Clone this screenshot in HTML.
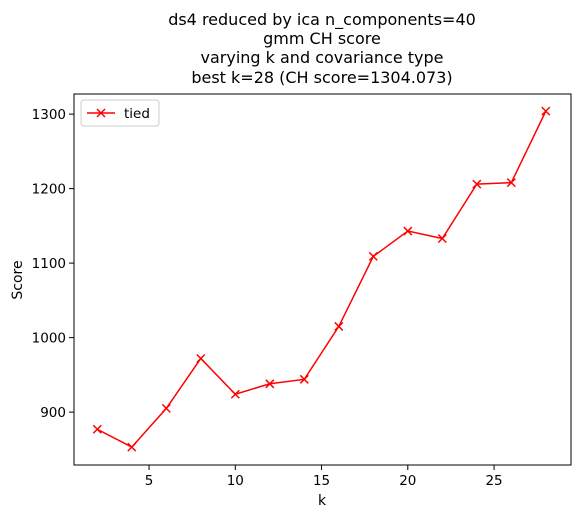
<!DOCTYPE html>
<html><head><meta charset="utf-8"><style>
body{margin:0;background:#fff;}
svg text{font-family:"DejaVu Sans","Liberation Sans",sans-serif;fill:#000;}
</style></head><body>
<svg id="chart" width="584" height="517" xmlns="http://www.w3.org/2000/svg">
<g font-size="16" text-anchor="middle">
<text x="322" y="25">ds4 reduced by ica n_components=40</text>
<text x="322" y="44">gmm CH score</text>
<text x="322" y="63">varying k and covariance type</text>
<text x="322" y="83">best k=28 (CH score=1304.073)</text>
</g>
<g id="xt"></g>
<g id="yt"></g>
<g id="series"></g>
<rect x="74" y="94" width="497" height="371" fill="none" stroke="#000" stroke-width="1"/>
<text x="322" y="505" font-size="14" text-anchor="middle">k</text>
<text transform="translate(22,280) rotate(-90)" font-size="14" text-anchor="middle">Score</text>
<g>
<rect x="81" y="100" width="78" height="26" rx="3" fill="#fff" stroke="#ccc"/>
<line x1="87" y1="113" x2="115" y2="113" stroke="red" stroke-width="1.5"/>
<path d="M97,109 L105,117 M97,117 L105,109" stroke="red" stroke-width="1.5"/>
<text x="124" y="118" font-size="13.5">tied</text>
</g>
</svg>
<script>
const kValues=[2,4,6,8,10,12,14,16,18,20,22,24,26,28];
const scores=[877,853,905,972,924,938,944,1015,1109,1143,1133,1206,1208,1304];
const xTicks=[5,10,15,20,25];
const yTicks=[900,1000,1100,1200,1300];
const L=74,R=571,T=94,B=465,xMin=0.65,xMax=29.46,yMin=829,yMax=1327;
const xs=v=>L+(v-xMin)/(xMax-xMin)*(R-L);
const ys=v=>B-(v-yMin)/(yMax-yMin)*(B-T);
const NS="http://www.w3.org/2000/svg";
function mk(t,a,p){const e=document.createElementNS(NS,t);for(const k in a)e.setAttribute(k,a[k]);p.appendChild(e);return e;}
const xt=document.getElementById('xt'),yt=document.getElementById('yt'),sg=document.getElementById('series');
xTicks.forEach(v=>{const x=xs(v);
const l=mk('line',{x1:x,x2:x,y1:B,y2:B+5,stroke:'#000'},xt);


const t=mk('text',{x:x,y:B+20,'font-size':13.5,'text-anchor':'middle'},xt);t.textContent=v;

});
yTicks.forEach(v=>{const y=ys(v);
const l=mk('line',{x1:L-5,x2:L,y1:y,y2:y,stroke:'#000'},yt);


const t=mk('text',{x:L-8,y:y+5,'font-size':13.5,'text-anchor':'end'},yt);t.textContent=v;

});
const pl=mk('polyline',{points:kValues.map((k,i)=>xs(k)+','+ys(scores[i])).join(' '),fill:'none',stroke:'red','stroke-width':1.5},sg);


kValues.forEach((k,i)=>{const x=xs(k),y=ys(scores[i]);
const m=mk('path',{d:`M${x-4},${y-4}L${x+4},${y+4}M${x-4},${y+4}L${x+4},${y-4}`,stroke:'red','stroke-width':1.5},sg);

});
</script>
</body></html>
